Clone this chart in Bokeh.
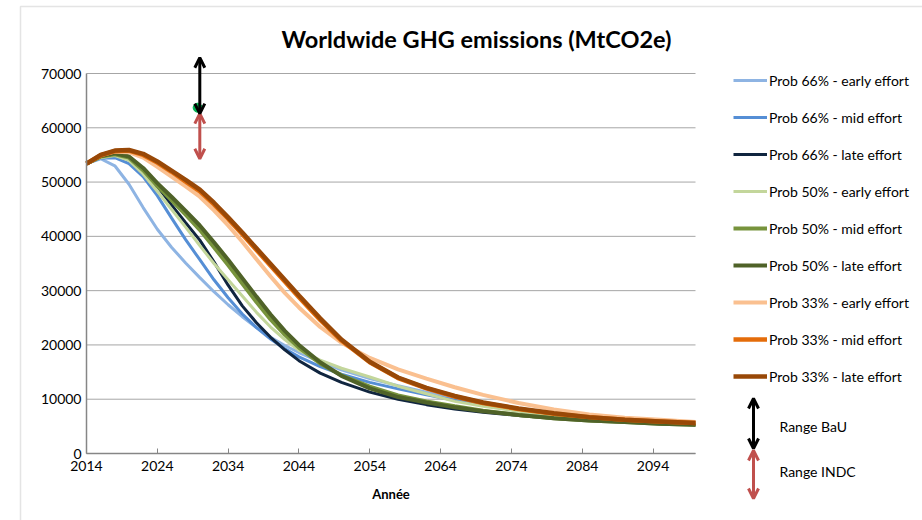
from bokeh.plotting import figure
from bokeh.models import Arrow, OpenHead, Label, FixedTicker, Range1d, BoxAnnotation, LinearAxis
from bokeh.embed import file_html
from bokeh.resources import INLINE

# ---------------- data ----------------
years = [2014, 2016, 2018, 2020, 2022, 2024, 2026, 2028, 2030, 2032, 2034, 2036, 2038, 2040,
         2042, 2044, 2047, 2050, 2054, 2058, 2062, 2066, 2070, 2075, 2080, 2085, 2090, 2095, 2100]

p66_early = [53400, 54300, 53000, 49600, 45300, 41300, 38000, 35100, 32400, 29800, 27400, 25200, 23200, 21400,
             19900, 18600, 16900, 15400, 13800, 12500, 11300, 10200, 9300, 8300, 7500, 6800, 6300, 5900, 5500]
p66_mid = [53400, 54400, 54500, 53400, 51000, 47500, 43400, 39400, 35700, 32000, 28700, 25700, 23200, 21100,
           19300, 17800, 16000, 14600, 13100, 11900, 10800, 9800, 8900, 7900, 7100, 6500, 6000, 5700, 5400]
p66_late = [53400, 54600, 55000, 54300, 52300, 49200, 45800, 42500, 39300, 35300, 31000, 27200, 24100, 21400,
            19100, 17100, 14800, 13100, 11300, 10000, 9000, 8200, 7600, 7000, 6500, 6100, 5800, 5500, 5300]
p50_early = [53400, 54500, 54900, 54000, 51500, 48300, 45000, 41700, 38300, 35000, 32000, 29000, 26000, 23300,
             21000, 19000, 17200, 15700, 14100, 12400, 11000, 9600, 8700, 7800, 7100, 6500, 6000, 5600, 5300]
p50_mid = [53400, 54700, 55100, 54500, 52200, 49300, 46700, 44000, 41200, 38000, 34700, 31300, 27900, 24700,
           21900, 19500, 16600, 14400, 12300, 10700, 9600, 8700, 7900, 7100, 6500, 6100, 5800, 5500, 5300]
p50_late = [53400, 54800, 55300, 54700, 52600, 49800, 47300, 44700, 42000, 38900, 35700, 32300, 28900, 25600,
            22600, 20000, 16800, 14300, 12000, 10400, 9400, 8500, 7800, 7100, 6500, 6100, 5800, 5500, 5300]
p33_early = [53400, 55000, 55600, 55500, 54500, 52800, 51000, 49200, 47300, 44800, 42000, 39000, 35800, 32600,
             29600, 26900, 23300, 20400, 17600, 15500, 13800, 12200, 10800, 9300, 8100, 7200, 6600, 6200, 5800]
p33_mid = [53400, 54900, 55700, 55800, 55000, 53600, 51900, 50100, 48300, 45900, 43200, 40400, 37500, 34600,
           31700, 28800, 24600, 20800, 16800, 13900, 12000, 10500, 9300, 8200, 7300, 6700, 6200, 5900, 5600]
p33_late = [53400, 55000, 55800, 55900, 55200, 53800, 52100, 50400, 48600, 46200, 43500, 40700, 37800, 34900,
            32000, 29100, 24900, 21000, 16900, 14000, 12100, 10600, 9400, 8300, 7400, 6700, 6200, 5900, 5600]

series_names = ["Prob 66% - early effort", "Prob 66% - mid effort", "Prob 66% - late effort",
                "Prob 50% - early effort", "Prob 50% - mid effort", "Prob 50% - late effort",
                "Prob 33% - early effort", "Prob 33% - mid effort", "Prob 33% - late effort"]
series_values = [p66_early, p66_mid, p66_late, p50_early, p50_mid, p50_late, p33_early, p33_mid, p33_late]

# ranges for 2030 (BaU and INDC)
range_year = 2030
bau_range = [62600, 72900]
indc_range = [54300, 62600]
marker_year = 2029.7
marker_value = 63700

x_ticks = [2014, 2024, 2034, 2044, 2054, 2064, 2074, 2084, 2094]
y_ticks = [0, 10000, 20000, 30000, 40000, 50000, 60000, 70000]
x_min, x_max = 2014, 2100
y_min, y_max = 0, 70000

# ---------------- layout / styles ----------------
W, H = 922, 520
AX_LEFT, AX_RIGHT, AX_TOP, AX_BOTTOM = 86, 695, 73, 453   # pixel box of the value axes
colors = ["#8EB4E3", "#558ED5", "#10253F", "#C3D69B", "#77933C", "#4F6228", "#FAC090", "#E46C0A", "#984807"]
widths = [3, 3, 3, 3, 4, 4, 4, 4.5, 4.5]
FONT = "Lato"
GRAY = "#A6A6A6"
AXIS_GRAY = "#868686"

# the frame covers the whole canvas; the axes are fixed inside it
xs = (x_max - x_min) / (AX_RIGHT - AX_LEFT)
ys = (y_max - y_min) / (AX_BOTTOM - AX_TOP)
x_range = Range1d(x_min - AX_LEFT * xs, x_max + (W - AX_RIGHT) * xs)
y_range = Range1d(y_min - (H - AX_BOTTOM) * ys, y_max + AX_TOP * ys)

p = figure(width=W, height=H, output_backend="svg", toolbar_location=None,
           x_range=x_range, y_range=y_range, x_axis_type=None, y_axis_type=None,
           min_border=0, min_border_left=0, min_border_right=0, min_border_top=0, min_border_bottom=0)
p.outline_line_color = None
p.background_fill_color = "white"
p.border_fill_color = "white"

# grid lines (horizontal, across the value area only)
p.segment(x0=[x_min] * len(y_ticks), x1=[x_max] * len(y_ticks), y0=y_ticks, y1=y_ticks,
          line_color=GRAY, line_width=1)

# axes
xaxis = LinearAxis(fixed_location=y_min, bounds=(x_min, x_max), ticker=FixedTicker(ticks=x_ticks))
yaxis = LinearAxis(fixed_location=x_min, bounds=(y_min, y_max), ticker=FixedTicker(ticks=y_ticks))
for ax in (xaxis, yaxis):
    ax.axis_line_color = AXIS_GRAY
    ax.axis_line_width = 1.5
    ax.minor_tick_line_color = None
    ax.major_label_text_font = FONT
    ax.major_label_text_font_size = "14px"
    ax.major_label_text_color = "black"
yaxis.major_tick_line_color = None
yaxis.major_tick_in = 0
yaxis.major_tick_out = 0
yaxis.major_label_standoff = 5
xaxis.major_tick_line_color = AXIS_GRAY
xaxis.major_tick_in = 5
xaxis.major_tick_out = 0
xaxis.major_label_standoff = 7
xaxis.axis_label = "Année"
xaxis.axis_label_text_font = FONT
xaxis.axis_label_text_font_style = "bold"
xaxis.axis_label_text_font_size = "13px"
xaxis.axis_label_text_color = "black"
xaxis.axis_label_standoff = 12
p.add_layout(xaxis, "below")
p.add_layout(yaxis, "left")

# lines
for name, vals, c, w in zip(series_names, series_values, colors, widths):
    p.line(years, vals, line_color=c, line_width=w, legend_label=name)

# markers for 2030 ranges
p.scatter([marker_year], [marker_value], size=9, color="#00B050")
p.add_layout(Arrow(x_start=range_year, y_start=indc_range[0], x_end=range_year, y_end=indc_range[1],
                   line_color="#C0504D", line_width=3,
                   start=OpenHead(size=10, line_color="#C0504D", line_width=3),
                   end=OpenHead(size=10, line_color="#C0504D", line_width=3)))
p.add_layout(Arrow(x_start=range_year, y_start=bau_range[0], x_end=range_year, y_end=bau_range[1],
                   line_color="black", line_width=3,
                   start=OpenHead(size=10, line_color="black", line_width=3),
                   end=OpenHead(size=10, line_color="black", line_width=3)))

# legend
lg = p.legend[0]
lg.location = (733, H - 386)
lg.label_text_font = FONT
lg.label_text_font_size = "14px"
lg.label_text_color = "black"
lg.glyph_width = 34
lg.glyph_height = 20
lg.label_height = 20
lg.spacing = 17
lg.label_standoff = 2
lg.padding = 0
lg.margin = 0
lg.border_line_color = None
lg.background_fill_alpha = 0

# extra legend entries (arrows)
p.add_layout(Arrow(x_start=753, y_start=448, x_end=753, y_end=398, start_units="canvas", end_units="canvas",
                   line_color="black", line_width=3,
                   start=OpenHead(size=10, line_color="black", line_width=3),
                   end=OpenHead(size=10, line_color="black", line_width=3)))
p.add_layout(Arrow(x_start=753, y_start=498, x_end=753, y_end=450, start_units="canvas", end_units="canvas",
                   line_color="#C0504D", line_width=3,
                   start=OpenHead(size=10, line_color="#C0504D", line_width=3),
                   end=OpenHead(size=10, line_color="#C0504D", line_width=3)))
p.add_layout(Label(x=779, y=426, x_units="canvas", y_units="canvas", text="Range BaU",
                   text_font=FONT, text_font_size="14px", text_color="black", text_baseline="middle"))
p.add_layout(Label(x=779, y=471, x_units="canvas", y_units="canvas", text="Range INDC",
                   text_font=FONT, text_font_size="14px", text_color="black", text_baseline="middle"))

# title
p.add_layout(Label(x=476, y=38, x_units="canvas", y_units="canvas",
                   text="Worldwide GHG emissions (MtCO2e)", text_font=FONT, text_font_style="bold",
                   text_font_size="23.5px", text_color="black", text_align="center", text_baseline="middle"))

# chart-area frame
p.add_layout(BoxAnnotation(left=20, right=940, top=6, bottom=540, left_units="canvas", right_units="canvas",
                           top_units="canvas", bottom_units="canvas", fill_color=None, fill_alpha=0,
                           line_color=GRAY, line_width=1.5))

open("out.html", "w").write(file_html(p, INLINE))
